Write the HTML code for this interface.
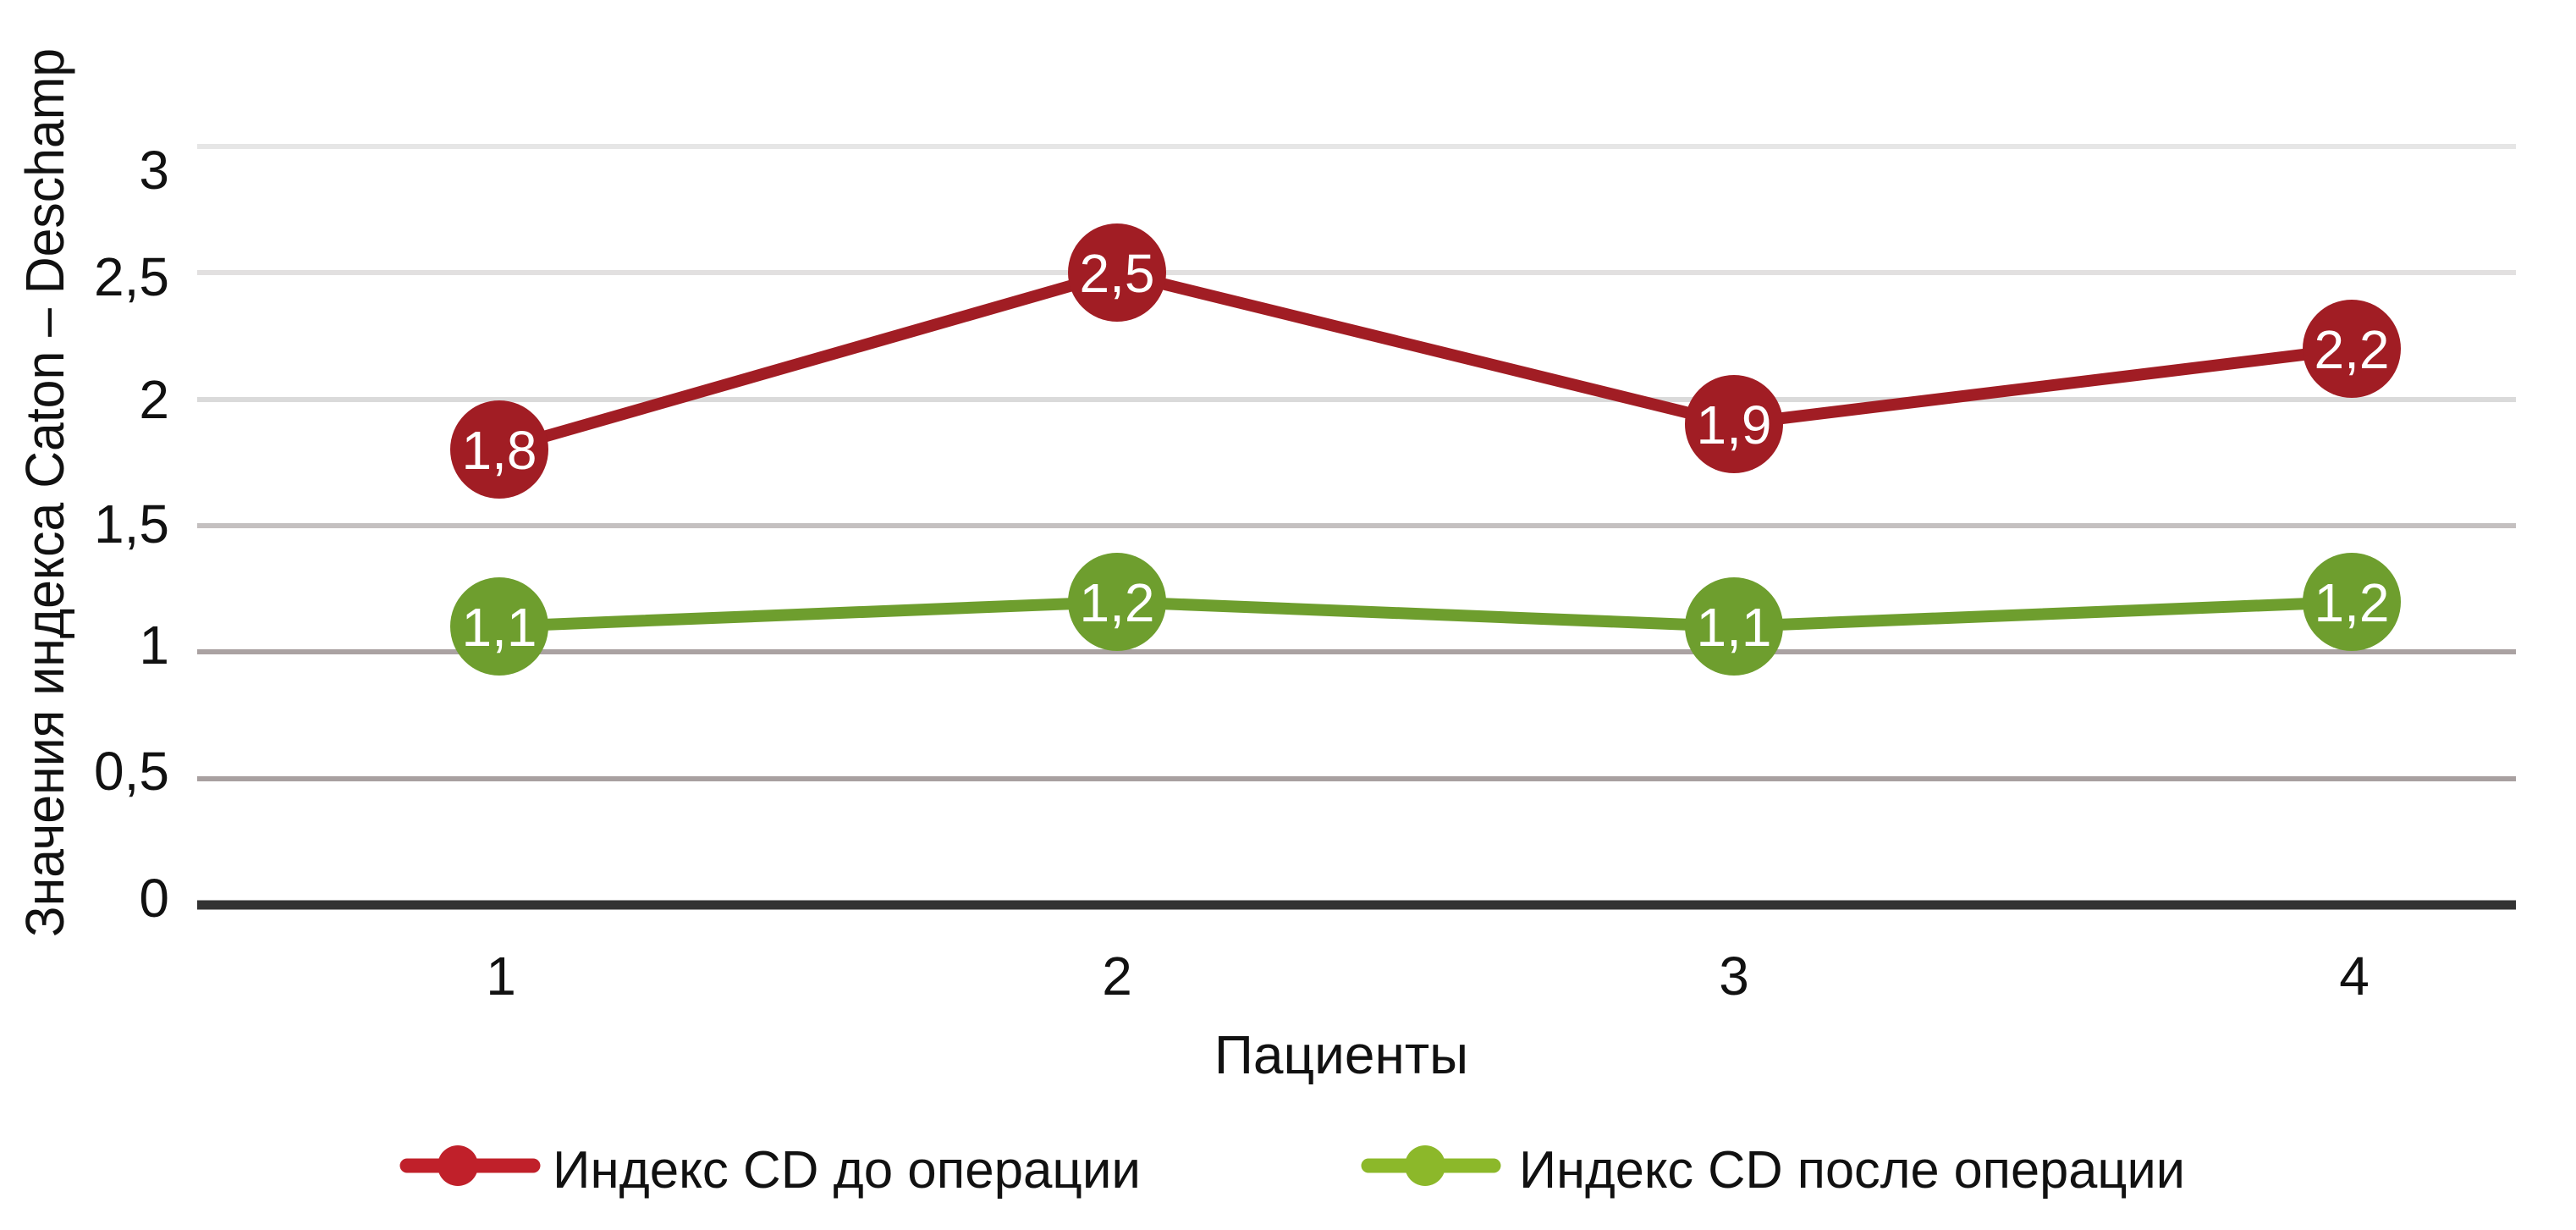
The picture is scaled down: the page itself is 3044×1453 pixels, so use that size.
<!DOCTYPE html>
<html><head><meta charset="utf-8"><style>
html,body{margin:0;padding:0;background:#fff}
svg{display:block}
text{font-family:"Liberation Sans","DejaVu Sans",sans-serif}
</style></head><body>
<svg width="3044" height="1453" viewBox="0 0 3044 1453" xmlns="http://www.w3.org/2000/svg">
<g stroke-width="6">
<line x1="233" x2="2973" y1="173" y2="173" stroke="#e6e6e6"/>
<line x1="233" x2="2973" y1="322" y2="322" stroke="#e2e0e0"/>
<line x1="233" x2="2973" y1="472" y2="472" stroke="#dadada"/>
<line x1="233" x2="2973" y1="621" y2="621" stroke="#c4c0c0"/>
<line x1="233" x2="2973" y1="770" y2="770" stroke="#aaa2a2"/>
<line x1="233" x2="2973" y1="920" y2="920" stroke="#a8a0a0"/>
</g>
<line x1="233" x2="2973" y1="1069" y2="1069" stroke="#333" stroke-width="11"/>
<g font-size="64" text-anchor="end" fill="#111">
<text x="200" y="223">3</text>
<text x="200" y="349">2,5</text>
<text x="200" y="494">2</text>
<text x="200" y="641">1,5</text>
<text x="200" y="784">1</text>
<text x="200" y="933">0,5</text>
<text x="200" y="1083">0</text>
</g>
<text transform="translate(75,582) rotate(-90)" font-size="64" text-anchor="middle" textLength="1050" lengthAdjust="spacingAndGlyphs" fill="#111">Значения индекса Caton – Deschamp</text>
<g font-size="64" text-anchor="middle" fill="#111">
<text x="592" y="1175">1</text>
<text x="1320" y="1175">2</text>
<text x="2049" y="1175">3</text>
<text x="2782" y="1175">4</text>
<text x="1585" y="1268">Пациенты</text>
</g>
<polyline points="590,740 1320,711 2049,740 2779,711" fill="none" stroke="#6e9e2e" stroke-width="14" stroke-linejoin="round"/>
<polyline points="590,531 1320,322 2049,501 2779,412" fill="none" stroke="#a11d24" stroke-width="14" stroke-linejoin="round"/>
<g fill="#6e9e2e">
<circle cx="590" cy="740" r="58"/><circle cx="1320" cy="711" r="58"/><circle cx="2049" cy="740" r="58"/><circle cx="2779" cy="711" r="58"/>
</g>
<g fill="#a11d24">
<circle cx="590" cy="531" r="58"/><circle cx="1320" cy="322" r="58"/><circle cx="2049" cy="501" r="58"/><circle cx="2779" cy="412" r="58"/>
</g>
<g font-size="64" text-anchor="middle" fill="#fff">
<text x="590" y="554">1,8</text>
<text x="1320" y="345">2,5</text>
<text x="2049" y="524">1,9</text>
<text x="2779" y="435">2,2</text>
<text x="590" y="763">1,1</text>
<text x="1320" y="734">1,2</text>
<text x="2049" y="763">1,1</text>
<text x="2779" y="734">1,2</text>
</g>
<line x1="481" x2="630" y1="1377" y2="1377" stroke="#c0202a" stroke-width="17" stroke-linecap="round"/>
<circle cx="541" cy="1377" r="24" fill="#c0202a"/>
<text x="653" y="1403" font-size="62" fill="#111" textLength="695" lengthAdjust="spacingAndGlyphs">Индекс CD до операции</text>
<line x1="1617" x2="1765" y1="1377" y2="1377" stroke="#8cb82a" stroke-width="17" stroke-linecap="round"/>
<circle cx="1684" cy="1377" r="24" fill="#8cb82a"/>
<text x="1795" y="1403" font-size="62" fill="#111" textLength="787" lengthAdjust="spacingAndGlyphs">Индекс CD после операции</text>
</svg>
</body></html>
